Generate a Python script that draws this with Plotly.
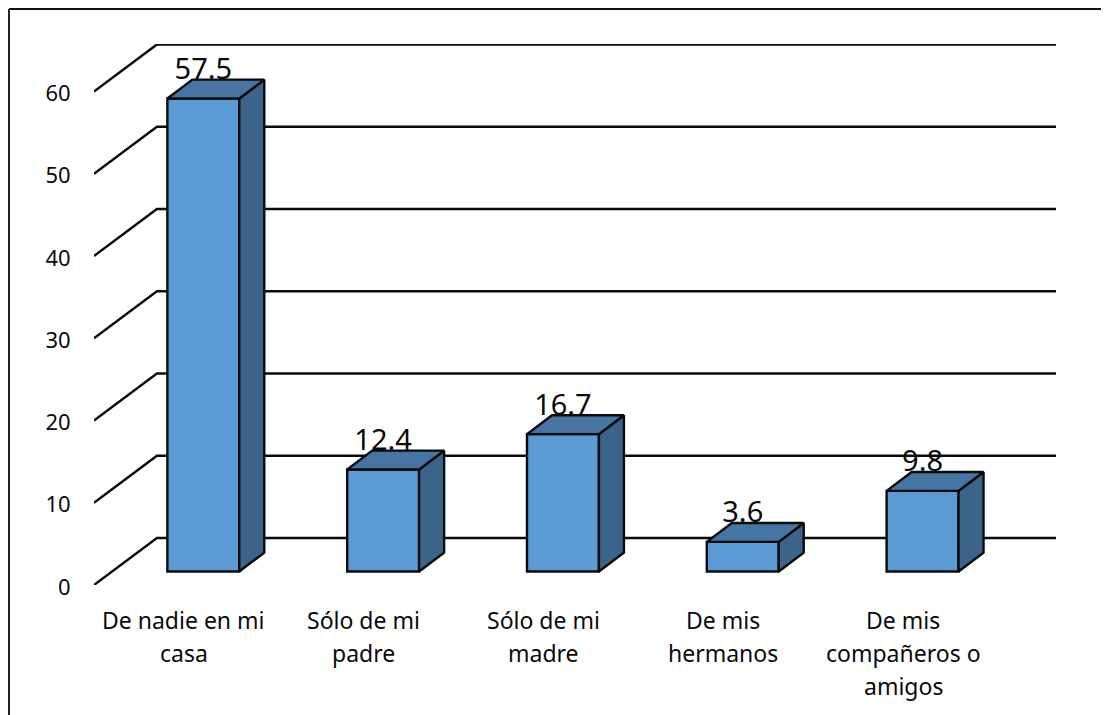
import plotly.graph_objects as go

categories = [
    ['De nadie en mi', 'casa'],
    ['Sólo de mi', 'padre'],
    ['Sólo de mi', 'madre'],
    ['De mis', 'hermanos'],
    ['De mis', 'compañeros o', 'amigos'],
]
values = [57.5, 12.4, 16.7, 3.6, 9.8]
y_ticks = [0, 10, 20, 30, 40, 50, 60]

font = 'Noto Sans'
front = '#5B9BD5'
side = '#3A6489'
top = '#4675A3'
black = '#0a0a0a'

# fake 3d: the floor/wall depth and the bar depth, in axis units
wall_dx, wall_dy = 0.35, 5.72
bar_dx, bar_dy = 0.139, 2.3
bar_shift, bar_base, bar_width = 0.108, 1.64, 0.4
x_left, x_right = -0.5, 4.85

fig = go.Figure()

#---------------------------------------
# walls

for t in y_ticks:
    fig.add_trace(go.Scatter(
        x=[x_left, x_left + wall_dx, x_right],
        y=[t, t + wall_dy, t + wall_dy],
        mode='lines',
        line={'color': black, 'width': 2.4},
        cliponaxis=False,
        hoverinfo='skip',
        zorder=1))

#---------------------------------------
# bars

xs = [i + bar_shift for i in range(len(values))]

fig.add_trace(go.Bar(
    x=xs,
    y=values,
    base=bar_base,
    width=bar_width,
    marker={'color': front, 'line': {'color': black, 'width': 2.4}},
    zorder=2))

for x, v in zip(xs, values):
    x0 = x - bar_width / 2
    x1 = x + bar_width / 2
    y0 = bar_base
    y1 = bar_base + v
    fig.add_trace(go.Scatter(
        x=[x1, x1 + bar_dx, x1 + bar_dx, x1, x1],
        y=[y0, y0 + bar_dy, y1 + bar_dy, y1, y0],
        mode='lines', fill='toself', fillcolor=side,
        line={'color': black, 'width': 2.4},
        hoverinfo='skip', zorder=3))
    fig.add_trace(go.Scatter(
        x=[x0, x0 + bar_dx, x1 + bar_dx, x1, x0],
        y=[y1, y1 + bar_dy, y1 + bar_dy, y1, y1],
        mode='lines', fill='toself', fillcolor=top,
        line={'color': black, 'width': 2.4},
        hoverinfo='skip', zorder=3))

fig.add_trace(go.Scatter(
    x=xs,
    y=[bar_base + v + 3.25 for v in values],
    mode='text',
    text=[str(v) for v in values],
    textposition='middle center',
    textfont={'family': font, 'size': 29, 'color': black},
    cliponaxis=False,
    hoverinfo='skip',
    zorder=4))

#---------------------------------------
# category labels, one annotation per line for the wide line spacing

for i, lines in enumerate(categories):
    for k, line in enumerate(lines):
        fig.add_annotation(
            x=i, y=0, text=line, showarrow=False,
            xanchor='center', yanchor='middle',
            yshift=-35 - 33 * k,
            font={'family': font, 'size': 23, 'color': black})

#---------------------------------------
# picture frame

fig.add_shape(type='line', xref='paper', yref='paper',
              x0=-85 / 962, x1=-85 / 962, y0=-1, y1=576.5 / 541.5,
              line={'color': '#222222', 'width': 2})
fig.add_shape(type='line', xref='paper', yref='paper',
              x0=-85 / 962, x1=1014 / 962, y0=576.5 / 541.5, y1=576.5 / 541.5,
              line={'color': '#111111', 'width': 2})
fig.add_shape(type='line', xref='paper', yref='paper',
              x0=1014 / 962, x1=1014 / 962, y0=-1, y1=576.5 / 541.5,
              line={'color': '#777777', 'width': 1})

# the page body has an 8px margin, so the figure is 8px smaller and shifted
fig.update_layout(
    width=1101,
    height=707,
    showlegend=False,
    plot_bgcolor='white',
    paper_bgcolor='white',
    margin={'l': 86, 'r': 53, 't': 36, 'b': 129.5, 'pad': 0},
    xaxis=dict(range=[x_left, x_right], showgrid=False, zeroline=False,
               showline=False, showticklabels=False, ticks=''),
    yaxis=dict(range=[0, 541.5 / 8.233], tickvals=y_ticks, showgrid=False,
               zeroline=False, showline=False, ticks='outside', ticklen=18,
               tickcolor='rgba(0,0,0,0)', ticklabelshift=2,
               tickfont={'family': font, 'size': 22, 'color': black}),
)

fig.write_html("out.html")
